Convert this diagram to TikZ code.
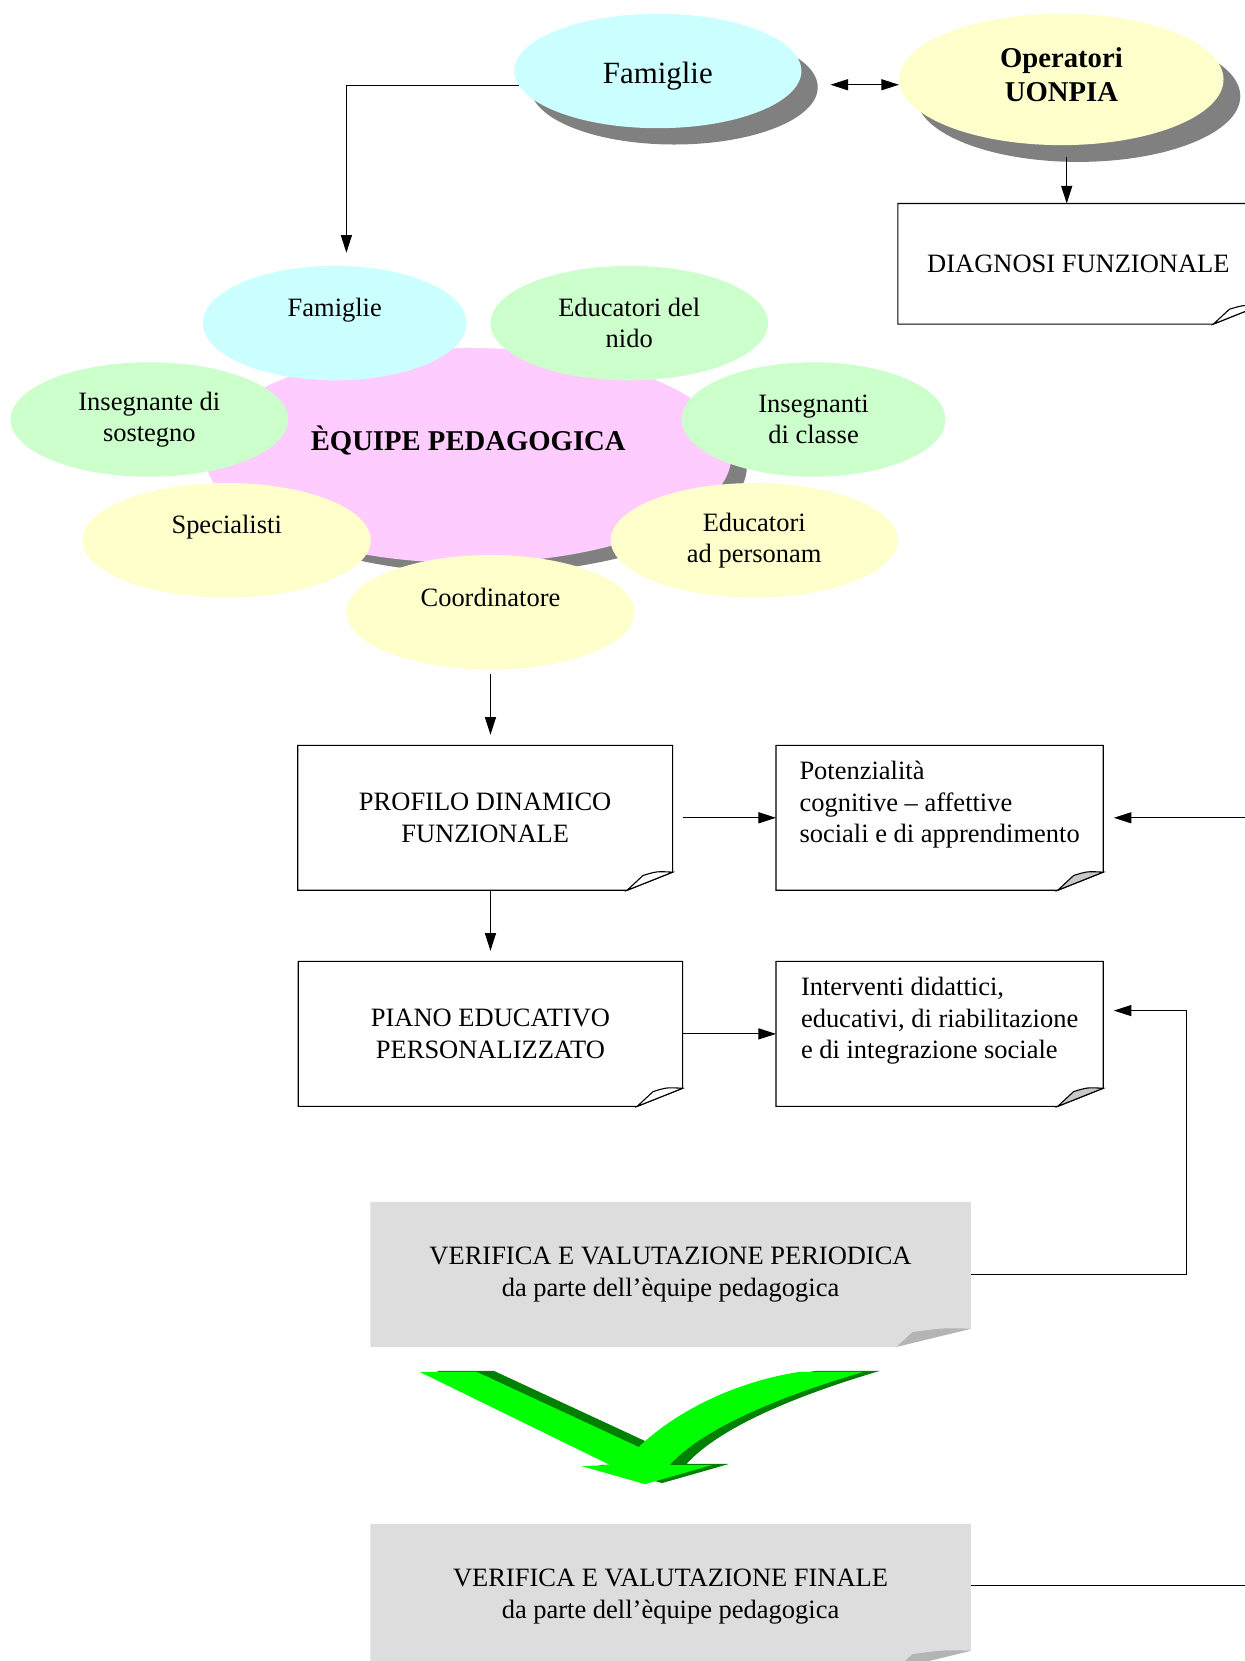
\documentclass[tikz,border=0pt]{standalone}
\usepackage{fontspec}
\setmainfont{Liberation Serif}
\usetikzlibrary{shapes.geometric,shadows,arrows.meta,backgrounds}

\definecolor{azzurro}{HTML}{CCFFFF}
\definecolor{verdino}{HTML}{CCFFCC}
\definecolor{giallino}{HTML}{FFFFCC}
\definecolor{rosa}{HTML}{FFCCFF}
\definecolor{grigino}{HTML}{DDDDDD}
\definecolor{grigiopiega}{HTML}{B4B4B4}
\definecolor{grigioangolo}{HTML}{C8C8C8}
\definecolor{verdeacceso}{HTML}{00FF00}
\definecolor{verdescuro}{HTML}{008000}

\newcommand{\px}{0.48pt}
\newcommand{\ovn}{\node[ovale]}
\newcommand{\fgn}{\node[foglio]}
\newcommand{\pagina}[3]{\path[#3] (#1.north west) -- (#1.north east) -- ([yshift=8.2pt]#1.south east)
    -- ([xshift=-#2]#1.south east) -- (#1.south west) -- cycle;}
\newcommand{\piega}[3]{\path[#3] ([xshift=-#2]#1.south east) -- ([xshift=-#2+7.2pt, yshift=6.7pt]#1.south east)
    .. controls ([xshift=-0.35*#2, yshift=8.6pt]#1.south east) .. ([yshift=8.2pt]#1.south east) -- cycle;}
\newcommand{\sagoma}{(396,1295) -- (450,1295) -- (603,1366)
    .. controls (635,1335) and (690,1305) .. (755,1295) -- (815,1295)
    .. controls (730,1320) and (662,1350) .. (632,1383) -- (672,1383) -- (609,1401)
    -- (549,1384) -- (576,1383) -- cycle}

\tikzset{
    ovale/.style={ellipse, inner sep=0pt, align=center, minimum height=108*\px,
        font=\fontsize{12}{14}\selectfont},
    foglio/.style={rectangle, inner sep=0pt, align=center, minimum height=136*\px,
        font=\fontsize{12}{14.4}\selectfont},
    ombra/.style 2 args={drop shadow={shadow xshift=#1, shadow yshift=-#2, fill=black!50, opacity=1}},
    freccia/.style={-{Triangle[length=8pt,width=5pt]}, line width=0.5pt},
    frecce/.style={{Triangle[length=8pt,width=5pt]}-{Triangle[length=8pt,width=5pt]}, line width=0.5pt},
}

\begin{document}
\begin{tikzpicture}[x=\px, y=-\px]
            \useasboundingbox (0,0) rectangle (1175,1568);

            \ovn[fill=azzurro, minimum width=271*\px, font=\fontsize{14}{16}\selectfont, text height=14.5pt, ombra={7.4pt}{7.4pt}] (famtop) at (621,67) {Famiglie};
            \ovn[fill=giallino, minimum width=306*\px, minimum height=124*\px, font=\bfseries\fontsize{13}{15.4}\selectfont, text depth=4.8pt, ombra={7.6pt}{7.6pt}] (oper) at (1002,75) {Operatori\\UONPIA};

            \ovn[fill=rosa, minimum width=497*\px, minimum height=203*\px, font=\bfseries\fontsize{13}{15.6}\selectfont, ombra={7pt}{4.6pt}] (equipe) at (442,430) {ÈQUIPE PEDAGOGICA\\\mbox{}};
            \ovn[fill=azzurro, minimum width=249*\px] (famint) at (316,305) {Famiglie\\\mbox{}};
            \ovn[fill=verdino, minimum width=262*\px] (nido) at (594,305) {Educatori del\\nido};
            \ovn[fill=verdino, minimum width=262*\px] (sostegno) at (141,396) {Insegnante di\\sostegno};
            \ovn[fill=verdino, minimum width=249*\px] (classe) at (768,396) {Insegnanti\\di classe};
            \ovn[fill=giallino, minimum width=272*\px] (special) at (214,510) {Specialisti\\\mbox{}};
            \ovn[fill=giallino, minimum width=271*\px] (personam) at (712,510) {Educatori\\ad personam};
            \ovn[fill=giallino, minimum width=272*\px] (coord) at (463,578) {Coordinatore\\\mbox{}};

            \fgn[minimum width=340*\px, minimum height=113*\px] (diag) at (1018,249) {DIAGNOSI FUNZIONALE};
            \fgn[minimum width=353*\px] (profilo) at (458,772) {PROFILO DINAMICO\\FUNZIONALE};
            \fgn[minimum width=362*\px] (piano) at (463,976) {PIANO EDUCATIVO\\PERSONALIZZATO};
            \fgn[minimum width=308*\px, align=left] (poten) at (887,772) {Potenzialità\\cognitive -- affettive\\sociali e di apprendimento\\\mbox{}};
            \fgn[minimum width=308*\px, align=left] (interv) at (887,976) {Interventi didattici,\\educativi, di riabilitazione\\e di integrazione sociale\\\mbox{}};
            \fgn[minimum width=566*\px] (period) at (633,1203) {VERIFICA E VALUTAZIONE PERIODICA\\da parte dell'èquipe pedagogica};
            \fgn[minimum width=566*\px] (finale) at (633,1507) {VERIFICA E VALUTAZIONE FINALE\\da parte dell'èquipe pedagogica};

            \fill[verdescuro, shift={(16,-1)}] \sagoma;
            \fill[verdeacceso] \sagoma;

            \coordinate (fuori1) at (1190,772);
            \coordinate (fuori2) at (1190,1497);

            \draw[freccia] (famtop.186) -| ([xshift=11*\px, yshift=12*\px]famint.north);
            \draw[frecce] ([xshift=27*\px, yshift=-13*\px]famtop.east) -- ([yshift=-5*\px]oper.west);
            \draw[freccia] ([xshift=5*\px, yshift=-11*\px]oper.south) -- ([xshift=5*\px]oper.south |- diag.north);
            \draw[freccia, shorten <=4*\px, shorten >=10*\px] (coord.south) -- (coord.south |- profilo.north);
            \draw[freccia, shorten >=10*\px] (coord.south |- profilo.south) -- (coord.south |- piano.north);
            \draw[freccia, shorten <=10*\px] (profilo.east) -- (poten.west);
            \draw[freccia, shorten >=10*\px] (fuori1) -- (poten.east);
            \draw[freccia] (piano.east) -- (interv.west);
            \draw[freccia, shorten >=10*\px]
                (period.east) -- ++(204,0) |- ([yshift=22*\px]interv.east);
            \draw[line width=0.5pt] ([yshift=10*\px]finale.east) -- (fuori2);

            \begin{pgfonlayer}{background}
                \fill[white] (0,0) rectangle (1175,1568);
                \pagina{diag}{20.6pt}{draw, line width=0.5pt}
                \pagina{profilo}{20.6pt}{draw, line width=0.5pt}
                \pagina{piano}{20.6pt}{draw, line width=0.5pt}
                \pagina{poten}{20.6pt}{draw, line width=0.5pt}
                \pagina{interv}{20.6pt}{draw, line width=0.5pt}
                \pagina{period}{33.6pt}{fill=grigino}
                \pagina{finale}{33.6pt}{fill=grigino}
                \piega{diag}{20.6pt}{draw, fill=white, line width=0.5pt}
                \piega{profilo}{20.6pt}{draw, fill=white, line width=0.5pt}
                \piega{piano}{20.6pt}{draw, fill=white, line width=0.5pt}
                \piega{poten}{20.6pt}{draw, fill=grigioangolo, line width=0.5pt}
                \piega{interv}{20.6pt}{draw, fill=grigioangolo, line width=0.5pt}
                \piega{period}{33.6pt}{fill=grigiopiega}
                \piega{finale}{33.6pt}{fill=grigiopiega}
            \end{pgfonlayer}
        \end{tikzpicture}
\end{document}
